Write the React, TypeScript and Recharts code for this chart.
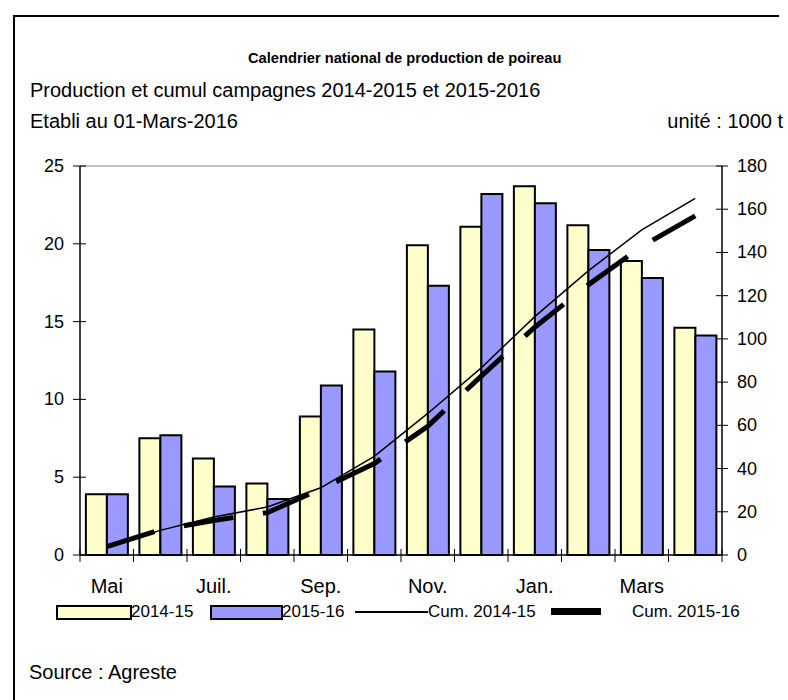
import React from 'react';
import { ComposedChart, Bar, Line, XAxis, YAxis, ReferenceLine } from 'recharts';

const months = ['Mai', 'Juin', 'Juil.', 'Août', 'Sep.', 'Oct.', 'Nov.', 'Déc.', 'Jan.', 'Fév.', 'Mars', 'Avril'];
const prod1415 = [3.9, 7.5, 6.2, 4.6, 8.9, 14.5, 19.9, 21.1, 23.7, 21.2, 18.9, 14.6];
const prod1516 = [3.9, 7.7, 4.4, 3.6, 10.9, 11.8, 17.3, 23.2, 22.6, 19.6, 17.8, 14.1];
const cum1415 = [3.9, 11.4, 17.6, 22.2, 31.1, 45.6, 65.5, 86.6, 110.3, 131.5, 150.4, 165.0];
const cum1516 = [3.9, 11.6, 16.0, 19.6, 30.5, 42.3, 59.6, 82.8, 105.4, 125.0, 142.8, 156.9];
const leftTicks = [0, 5, 10, 15, 20, 25];
const rightTicks = [0, 20, 40, 60, 80, 100, 120, 140, 160, 180];

const data = months.map((m, i) => ({
  month: m,
  p1415: prod1415[i],
  p1516: prod1516[i],
  c1415: cum1415[i],
  c1516: cum1516[i],
}));

const FONT = '"Liberation Sans", Arial, sans-serif';
const PLOT_LEFT = 80;
const PLOT_RIGHT = 722;
const BAND = (PLOT_RIGHT - PLOT_LEFT) / months.length;

const LeftTick = ({ x, y, payload }: any) => {
  const ax = x + 16;
  return (
    <g>
      <line x1={ax - 7} x2={ax + 6} y1={y} y2={y} stroke="#000" strokeWidth={1} />
      <text x={x} y={y} textAnchor="end" dominantBaseline="central" fontSize={18} fontFamily={FONT} fill="#000">
        {payload.value}
      </text>
    </g>
  );
};

const RightTick = ({ x, y, payload }: any) => {
  const ax = x - 15;
  return (
    <g>
      <line x1={ax - 6} x2={ax + 6} y1={y} y2={y} stroke="#000" strokeWidth={1} />
      <text x={x} y={y} textAnchor="start" dominantBaseline="central" fontSize={18} fontFamily={FONT} fill="#000">
        {payload.value}
      </text>
    </g>
  );
};

const MonthTick = ({ x, y, payload, index }: any) => {
  const ay = y - 8;
  const left = x - BAND / 2;
  return (
    <g>
      <line x1={left} x2={left} y1={ay - 6} y2={ay + 7} stroke="#000" strokeWidth={1} />
      {index === months.length - 1 && (
        <line x1={x + BAND / 2} x2={x + BAND / 2} y1={ay - 6} y2={ay + 7} stroke="#000" strokeWidth={1} />
      )}
      {index % 2 === 0 && (
        <text x={x} y={ay + 31} textAnchor="middle" dominantBaseline="central" fontSize={20} fontFamily={FONT} fill="#000">
          {payload.value}
        </text>
      )}
    </g>
  );
};

const txt = (left: number, center: number, size: number, extra: React.CSSProperties = {}): React.CSSProperties => ({
  position: 'absolute',
  left,
  top: center - 12,
  lineHeight: '24px',
  fontSize: size,
  fontFamily: FONT,
  whiteSpace: 'nowrap',
  color: '#000',
  ...extra,
});

export default function App() {
  return (
    <div style={{ position: 'absolute', left: 0, top: 0, width: 788, height: 700, overflow: 'hidden', background: '#fff' }}>
      {/* frame: only the top and left edges show */}
      <div style={{ position: 'absolute', left: 13, top: 15, width: 764, height: 685, borderTop: '2px solid #000', borderLeft: '2px solid #000' }} />

      <div style={txt(248, 58, 14.7, { fontWeight: 'bold' })}>Calendrier national de production de poireau</div>
      <div style={txt(30, 90, 20)}>Production et cumul campagnes 2014-2015 et 2015-2016</div>
      <div style={txt(30, 121, 20)}>Etabli au 01-Mars-2016</div>
      <div style={txt(0, 121, 20, { left: undefined, right: 5 })}>unité : 1000 t</div>
      <div style={txt(29, 672, 20)}>Source : Agreste</div>

      <div style={{ position: 'absolute', left: 0, top: 0 }}>
        <ComposedChart
          width={788}
          height={700}
          data={data}
          margin={{ top: 166, right: 16, bottom: 115, left: 30 }}
          barCategoryGap="11%"
          barGap={0}
        >
          <XAxis
            dataKey="month"
            interval={0}
            tickLine={false}
            tickSize={0}
            tickMargin={8}
            axisLine={{ stroke: '#000', strokeWidth: 1.5 }}
            tick={<MonthTick />}
            height={30}
          />
          <YAxis
            yAxisId="left"
            domain={[0, 25]}
            ticks={leftTicks}
            interval={0}
            width={50}
            tickSize={6}
            tickMargin={10}
            tickLine={false}
            axisLine={{ stroke: '#000', strokeWidth: 1.5 }}
            tick={<LeftTick />}
          />
          <YAxis
            yAxisId="right"
            orientation="right"
            domain={[0, 180]}
            ticks={rightTicks}
            interval={0}
            width={50}
            tickSize={6}
            tickMargin={9}
            tickLine={false}
            axisLine={{ stroke: '#000', strokeWidth: 1.5 }}
            tick={<RightTick />}
          />
          <ReferenceLine yAxisId="left" y={25} stroke="#808080" strokeWidth={1} />
          <Bar yAxisId="left" dataKey="p1415" fill="#FFFFCC" stroke="#000" strokeWidth={2} isAnimationActive={false} />
          <Bar yAxisId="left" dataKey="p1516" fill="#9999FF" stroke="#000" strokeWidth={2} isAnimationActive={false} />
          <Line yAxisId="right" type="linear" dataKey="c1415" stroke="#000" strokeWidth={1.5} dot={false} isAnimationActive={false} />
          <Line yAxisId="right" type="linear" dataKey="c1516" stroke="#000" strokeWidth={5} strokeDasharray="50 30" dot={false} isAnimationActive={false} />
        </ComposedChart>
      </div>

      {/* legend */}
      <div style={{ position: 'absolute', left: 56, top: 605, width: 72, height: 11, background: '#FFFFCC', border: '2px solid #000' }} />
      <div style={txt(131, 612, 17)}>2014-15</div>
      <div style={{ position: 'absolute', left: 210, top: 605, width: 69, height: 11, background: '#9999FF', border: '2px solid #000' }} />
      <div style={txt(282, 612, 17)}>2015-16</div>
      <div style={{ position: 'absolute', left: 355, top: 611, width: 73, height: 2, background: '#000' }} />
      <div style={txt(428, 612, 17)}>Cum. 2014-15</div>
      <div style={{ position: 'absolute', left: 551, top: 608, width: 50, height: 7, background: '#000' }} />
      <div style={txt(632, 612, 17)}>Cum. 2015-16</div>
    </div>
  );
}
